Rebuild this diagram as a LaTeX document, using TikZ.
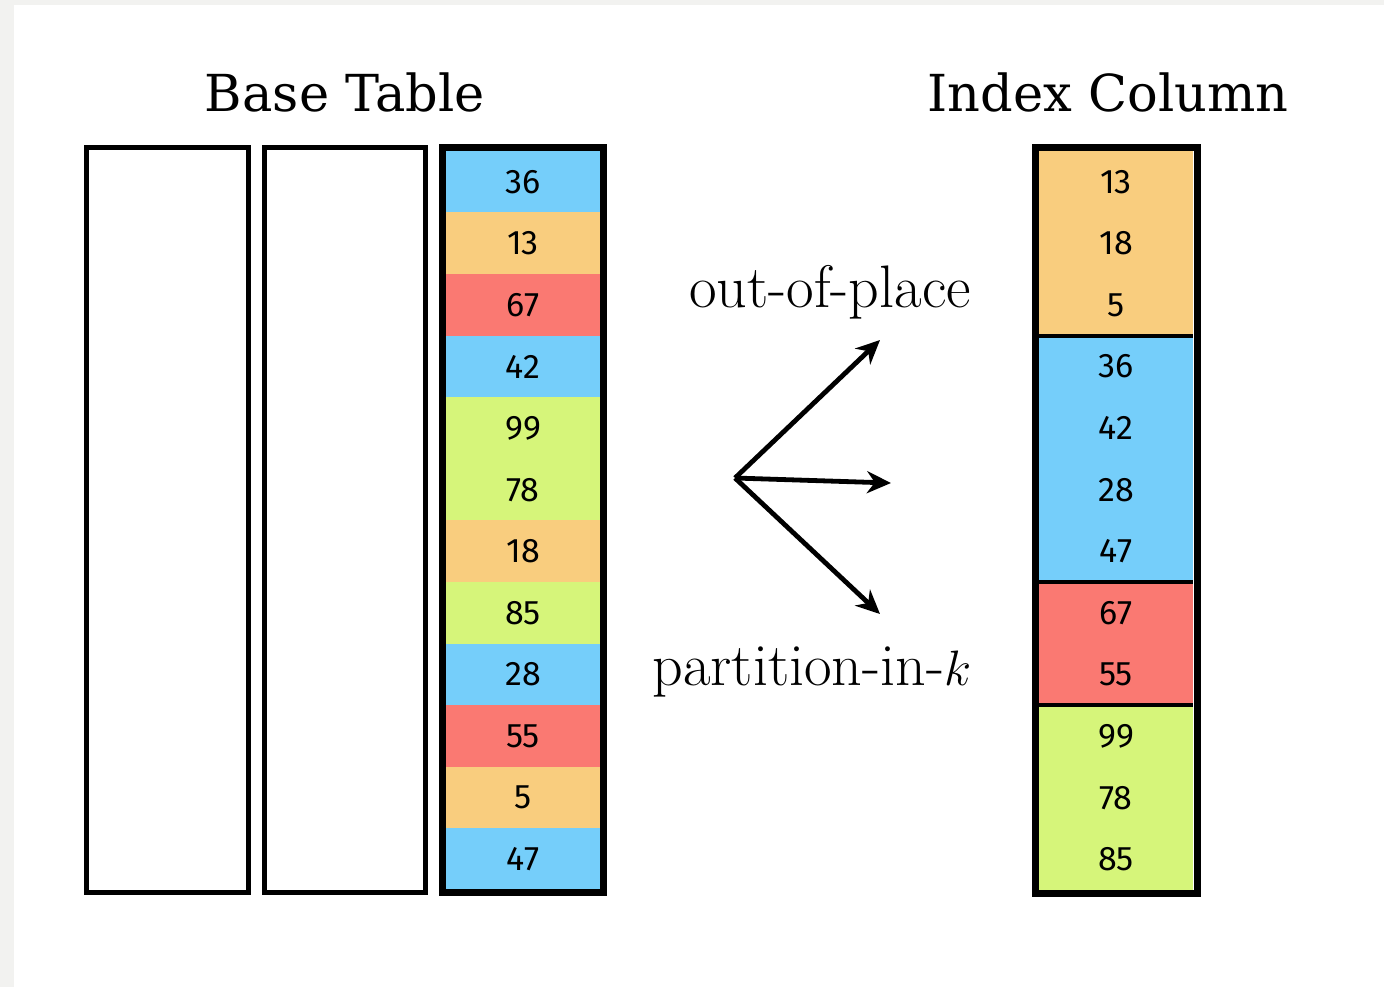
\documentclass[tikz,border=0pt]{standalone}
\usepackage{fontspec}
\usepackage{tikz}
\usetikzlibrary{arrows.meta,positioning}

\newfontfamily\numfont{Fira Sans}
\newfontfamily\headfont{DejaVu Serif}

\definecolor{pagegray}{RGB}{242,242,240}
\definecolor{kblue}{RGB}{117,206,250}
\definecolor{korange}{RGB}{249,205,126}
\definecolor{kred}{RGB}{250,121,114}
\definecolor{kgreen}{RGB}{214,245,122}

\begin{document}
\begin{tikzpicture}[x=0.5pt,y=-0.5pt,
    cell/.style={minimum width=77pt,minimum height=31pt,inner sep=0pt,
      font=\numfont\fontsize{17}{19}\selectfont},
    num/.style={inner sep=0pt,font=\numfont\fontsize{17}{19}\selectfont},
    head/.style={font=\headfont\fontsize{25.5}{30}\selectfont},
    lbl/.style={font=\fontsize{30}{36}\selectfont},
    frame/.style={draw=black,line width=3.5pt},
    thin frame/.style={draw=black,line width=2.5pt},
    arr/.style={line width=2.4pt,-{Stealth[length=12pt,width=11pt]}}]
  \def\rowh{61.6}
  \useasboundingbox (0,0) rectangle (1384,987);
  \fill[pagegray] (0,0) rectangle (1384,987);
  \fill[white] (14,5) rectangle (1384,987);

  % titles
  \node[head] (baseT) at (345,92) {Base Table};
  \node[head] (idxT) at (1108,92) {Index Column};

  % empty columns of the base table
  \draw[thin frame] (86.5,147.5) rectangle (248,892.5);
  \draw[thin frame] (264.5,147.5) rectangle (425.5,892.5);

  % indexed column, in table order
  \foreach \v/\c [count=\i] in {36/kblue,13/korange,67/kred,42/kblue,99/kgreen,78/kgreen,
      18/korange,85/kgreen,28/kblue,55/kred,5/korange,47/kblue}
    \node[cell,fill=\c] (b\i) at (523,{151+\rowh*(\i-0.5)}) {\v};
  \draw[frame] (442.5,147.5) rectangle (603.5,892.5);

  % index column, grouped by partition
  \foreach \c/\a/\b in {korange/0/3,kblue/3/7,kred/7/9,kgreen/9/12}
    \fill[\c] (1039,{151+\rowh*\a}) rectangle (1193,{151+\rowh*\b});
  \foreach \a in {3,7,9}
    \draw[line width=2pt] (1039,{151+\rowh*\a}) -- (1193,{151+\rowh*\a});
  \foreach \v [count=\i] in {13,18,5,36,42,28,47,67,55,99,78,85}
    \node[num] (ix\i) at (1116,{151+\rowh*(\i-0.5)}) {\v};
  \draw[frame] (1035.5,147) rectangle (1197.5,893);

  % the two ways of building it
  \coordinate (fork) at (735,478);
  \coordinate (upT) at (880,340);
  \coordinate (midT) at (891,483);
  \coordinate (lowT) at (880,614);
  \draw[arr] (fork) -- (upT);
  \draw[arr] (fork) -- (midT);
  \draw[arr] (fork) -- (lowT);

  \node[lbl] (oop) at (830,292) {out-of-place};
  \node[lbl] (pink) at (812,672) {partition-in-$k$};
\end{tikzpicture}
\end{document}
